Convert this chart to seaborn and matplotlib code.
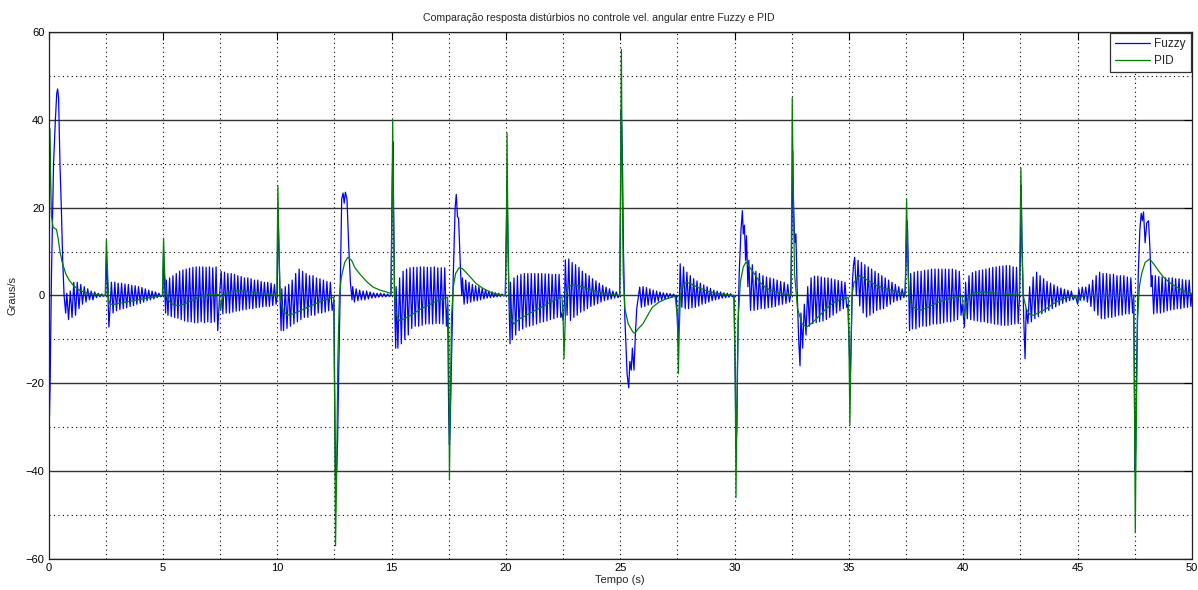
import numpy as np
import pandas as pd
import matplotlib
matplotlib.use("Agg")
import matplotlib.pyplot as plt
import seaborn as sns
from matplotlib.ticker import MultipleLocator

# ---------------- data ----------------
title = "Comparação resposta distúrbios no controle vel. angular entre Fuzzy e PID"
x_label = "Tempo (s)"
y_label = "Graus/s"
series_names = ["Fuzzy", "PID"]

# PID response (time s, value deg/s)
pid_t = [0, 0.02, 0.05, 0.08, 0.13, 0.2, 0.35, 0.42, 0.5, 0.6, 0.75, 0.9, 1.1, 1.35, 1.7, 2.1, 2.48,
         2.53, 2.58, 2.63, 2.7, 2.9, 3.3, 3.8, 4.3, 4.8, 4.98,
         5.03, 5.08, 5.15, 5.3, 5.5, 5.7, 6.0, 6.3, 6.6, 7.0, 7.47,
         7.53, 7.58, 7.7, 8.0, 8.3, 8.7, 9.2, 9.7, 9.98,
         10.03, 10.07, 10.13, 10.25, 10.45, 10.7, 11.0, 11.4, 11.8, 12.2, 12.47,
         12.52, 12.55, 12.6, 12.65, 12.72, 12.8, 12.95, 13.09, 13.25, 13.4, 13.61, 13.9, 14.19, 14.5, 14.78, 14.98,
         15.02, 15.05, 15.08, 15.13, 15.2, 15.35, 15.6, 15.94, 16.3, 16.7, 17.1, 17.45,
         17.5, 17.53, 17.57, 17.62, 17.7, 17.8, 17.95, 18.1, 18.3, 18.7, 19.0, 19.3, 19.6, 19.88, 19.98,
         20.02, 20.05, 20.08, 20.13, 20.2, 20.35, 20.6, 21.0, 21.5, 22.0, 22.45,
         22.5, 22.54, 22.58, 22.63, 22.72, 22.9, 23.1, 23.5, 23.9, 24.3, 24.7, 24.98,
         25.02, 25.05, 25.08, 25.13, 25.2, 25.35, 25.55, 25.63, 25.8, 26.0, 26.2, 26.4, 26.7, 27.0, 27.4,
         27.5, 27.54, 27.58, 27.63, 27.75, 27.9, 28.1, 28.4, 28.8, 29.2, 29.6, 29.98,
         30.03, 30.06, 30.1, 30.16, 30.25, 30.38, 30.5, 30.65, 30.81, 30.96, 31.1, 31.4, 31.8, 32.2, 32.47,
         32.52, 32.56, 32.62, 32.75, 32.95, 33.15, 33.4, 33.73, 34.0, 34.31, 34.6, 34.97,
         35.0, 35.04, 35.08, 35.13, 35.22, 35.48, 35.8, 36.2, 36.55, 36.93, 37.47,
         37.48, 37.52, 37.56, 37.62, 37.75, 38.1, 38.4, 38.8, 39.2, 39.6, 39.95,
         40.05, 40.12, 40.25, 40.5, 40.9, 41.3, 41.8, 42.45,
         42.48, 42.52, 42.56, 42.62, 42.75, 42.9, 43.06, 43.35, 43.64, 43.9, 44.2, 44.5, 44.8,
         44.98, 45.02, 45.1, 45.3, 47.45,
         47.48, 47.52, 47.56, 47.62, 47.7, 47.8, 47.95, 48.15, 48.35, 48.55, 48.75, 49.0, 49.33, 49.65, 50.0]
pid_v = [0, -20, 38, 30, 18, 15.5, 15, 13, 10, 7.5, 5, 3.5, 2.2, 1.2, 0.5, 0.2, 0,
         12.7, 6, -1, -2, -2, -1.6, -1.1, -0.6, -0.2, 0,
         13, 5, 0, -1.5, -2.2, -2.3, -1.8, -1, -0.3, 0.2, 0.2,
         -3.4, -1, 0.3, 0.9, 1.1, 0.9, 0.5, 0.2, 0,
         25, 12, 0, -3.5, -4.5, -4.2, -3.5, -2.5, -1.6, -0.8, -0.4,
         -30, -57, -40, -15, 0, 4, 7.5, 8.7, 8, 6.3, 4.9, 3.2, 1.9, 1.2, 0.8, 0.4,
         20, 40, 20, 0, -4.5, -5.7, -5.2, -4.2, -3.0, -2.0, -1.0, -0.4,
         -10, -42, -25, -5, 2, 5, 6.3, 6.1, 5, 2.7, 1.6, 0.8, 0.3, 0, 0,
         15, 37, 18, 0, -5, -6.5, -5.3, -4.2, -2.8, -1.4, -0.3,
         -5, -14.4, -8, 0, 2, 2.4, 2.3, 1.7, 1.0, 0.5, 0.2, 0,
         30, 56, 30, 5, -3, -6.5, -8.3, -8.6, -7.5, -6.4, -4.5, -2.7, -1.5, -0.8, -0.2,
         -5, -17.8, -8, 0, 2.5, 3, 2.6, 1.8, 1, 0.5, 0.2, 0,
         -20, -46, -25, -5, 3, 6.5, 7.6, 6.5, 5.3, 4.2, 3, 1.6, 0.8, 0.3, 0.1,
         45, 25, 5, -3, -6.5, -7.2, -6.2, -4.5, -3, -1.7, -1, -0.5,
         -10, -29.5, -15, 0, 3, 4.5, 3.5, 2.3, 1.6, 1.1, 0.3,
         10, 22, 10, 0, -2.5, -3.4, -2.8, -1.8, -1, -0.4, -0.2,
         -4.9, -2, 0, 0.6, 0.8, 0.6, 0.3, 0.1,
         12, 29, 12, 0, -3, -4.3, -4.5, -3.8, -3, -2, -1.1, -0.5, -0.2,
         -0.1, -1.5, -0.5, 0, 0,
         -20, -54, -30, -5, 2, 5, 7.5, 8.3, 7, 5.5, 4.2, 3, 1.9, 1, 0.4]

# Fuzzy response: transient vertices around each disturbance
fuzzy_key_t = [0, 0.04, 0.07, 0.13, 0.22, 0.3, 0.36, 0.4, 0.44, 0.5, 0.56, 0.62, 0.68, 0.75, 2.45,
               2.5, 2.53, 2.58, 2.64, 2.7,
               5.0, 5.03, 5.08, 5.12,
               7.48,
               10.0, 10.03, 10.07, 10.12, 10.17,
               12.48, 12.52, 12.55, 12.6, 12.64, 12.68, 12.75, 12.82, 12.88, 12.93, 12.98, 13.05, 13.12, 13.2, 13.27,
               14.97, 15.03, 15.06, 15.09, 15.13, 15.18,
               17.45, 17.5, 17.53, 17.56, 17.62, 17.7, 17.78, 17.83, 17.88, 17.93, 17.97, 18.02, 18.07,
               19.97, 20.03, 20.05, 20.08, 20.13, 20.18,
               22.45, 22.5, 22.53, 22.57,
               24.97, 25.02, 25.04, 25.07, 25.1, 25.14, 25.2, 25.3, 25.37, 25.42, 25.48, 25.53, 25.6, 25.66, 25.72, 25.8,
               27.45, 27.5, 27.53, 27.57, 27.6,
               29.97, 30.03, 30.06, 30.1, 30.14, 30.2, 30.28, 30.34, 30.38, 30.43, 30.48, 30.52, 30.58,
               32.45, 32.52, 32.54, 32.58, 32.63, 32.68, 32.73, 32.8, 32.86,
               34.95, 35.03, 35.06, 35.1, 35.15, 35.2,
               37.45, 37.5, 37.53, 37.56, 37.6, 37.65,
               39.95, 40.05,
               42.45, 42.5, 42.53, 42.56, 42.59, 42.64, 42.7,
               44.9, 45.0,
               47.45, 47.48, 47.51, 47.54, 47.58, 47.65, 47.72, 47.78, 47.83, 47.88, 47.95, 48.02, 48.1, 48.16, 48.22,
               50.0]
fuzzy_key_v = [0, -27.5, -20, 5, 30, 40, 46, 47, 45, 30, 20, 8, 0, -4, 0,
               0, 9, 3, -7.2, -2,
               0, 10, 2, -4,
               0,
               0, 20, 12, 0, -8,
               -1, -27, -42, -40, -33, -20, 0, 22, 23.3, 21, 23.5, 22, 12, 3, -1,
               0, 26, 35, 20, 0, -12,
               -2, -28, -34, -30, -15, 5, 20, 23, 18, 17.5, 12, 5, 0,
               0, 18, 26, 15, 0, -11,
               -4, -5.7, -4, 0,
               0, 25, 42, 38, 29, 10, -5, -18, -21, -15, -17, -12, -17, -9, -3, 0,
               0, -6, -11, -4, 2,
               0, -20, -35, -30, -10, 5, 15, 19.3, 14, 16, 8, 13.6, 2,
               0, 20, 33, 20, 12, 14, 2, -10, -16,
               -2, -15, -18, -10, 3, 7,
               1, 8, 17, 15.5, 5, -8,
               -2, -7.2,
               -1, 10, 25, 14, 6.4, -5, -14.4,
               0, -2,
               0, -20, -40, -34, -15, 5, 15, 18.7, 17, 19, 12, 16.5, 17, 10.6, 2,
               0.5]

# Fuzzy oscillation windows: start/end time, then peak and trough of each cycle
osc_start = [0.8, 2.75, 5.15, 7.55, 10.2, 13.3, 15.2, 18.1, 20.2, 22.6,
             25.85, 27.62, 30.62, 32.9, 35.25, 37.7, 40.1, 42.75, 45.05, 48.25]
osc_end = [2.4, 4.9, 7.4, 9.95, 12.4, 14.9, 17.4, 19.9, 22.4, 24.9,
           27.4, 29.9, 32.4, 34.9, 37.4, 39.9, 42.4, 44.8, 47.4, 49.95]
osc_hi = [
    [0.5, 1, 3, 3, 2.5, 2, 1.5, 1, 0.8, 0.5, 0.3],
    [3, 3, 2.8, 2.8, 2.6, 2.5, 2.3, 2.2, 2, 1.8, 1.5, 1.2, 1, 0.8, 0.5],
    [3.5, 4, 4.5, 5, 5.5, 5.8, 6, 6.2, 6.4, 6.5, 6.5, 6.5, 6.4, 6.5, 6.3, 6.5],
    [5.5, 5.3, 5, 5, 4.8, 4.5, 4.3, 4, 4, 3.8, 3.5, 3.5, 3.2, 3, 3, 2.8, 2.5],
    [1.5, 2, 2.5, 3.5, 5, 6, 5.5, 5, 4.5, 4.5, 4, 3.8, 3.5, 3.2, 3],
    [2, 1.5, 1.2, 1, 1, 0.8, 0.6, 0.5, 0.5, 0.4, 0.3],
    [2, 4, 5.5, 6, 6.3, 6.4, 6.4, 6.5, 6.5, 6.4, 6.4, 6.5, 6.3, 6.3, 6.3],
    [4, 3.5, 3, 2.5, 2.2, 2, 1.6, 1.3, 1, 0.8, 0.6, 0.5, 0.3],
    [3, 4, 4.5, 4.8, 5, 5, 5, 5, 5, 5, 4.9, 4.9, 4.8, 4.8, 4.8],
    [8.1, 8.3, 7.5, 7, 6.4, 5.5, 5, 4.5, 3.8, 3.3, 2.8, 2.3, 1.9, 1.5, 1, 0.8],
    [1.9, 2, 1.8, 1.5, 1.2, 1, 0.8, 0.6, 0.5, 0.4, 0.3],
    [7.2, 6.5, 5.3, 4.5, 3.8, 3.3, 2.8, 2.4, 2, 1.6, 1.2, 1, 0.8, 0.6, 0.5, 0.4],
    [8, 7, 5.5, 5, 4.5, 4.2, 4, 3.8, 3.5, 3.2, 3, 2.5],
    [-4, -2, 2, 4, 4.4, 4.4, 4.2, 4, 4, 3.8, 3.6, 3.4, 3.2, 3],
    [8.7, 8, 7.5, 7, 6.5, 6, 5.5, 5, 4.5, 4, 3.5, 3, 2.5, 2, 1.5],
    [5, 5.3, 5.5, 5.5, 5.7, 5.8, 6, 6, 6, 6, 6, 6, 6, 5.8, 5.5],
    [3, 4.5, 5.2, 5.5, 5.7, 5.8, 6, 6.2, 6.4, 6.5, 6.6, 6.7, 6.8, 6.8, 6.5, 6.4],
    [-3, 2, 4.2, 5.3, 4.5, 3.8, 3.2, 2.8, 2.4, 2, 1.7, 1.4, 1.2, 1],
    [1.5, 1.9, 1.9, 2.5, 3.5, 4.5, 5.3, 5, 5, 4.8, 4.8, 4.5, 4.5, 4.5, 4.2, 4],
    [4.5, 4.5, 4.3, 4.2, 4, 4, 4, 3.8, 3.8, 3.6, 3.5, 3.5],
]
osc_lo = [
    [-5.5, -5, -4.5, -3, -2, -1.5, -1, -1, -0.5, -0.3, -0.2],
    [-4, -3.5, -3.2, -3, -2.8, -2.5, -2.3, -2, -1.8, -1.5, -1.2, -1, -0.8, -0.5, -0.3],
    [-4.5, -4.8, -5, -5.2, -5.5, -5.8, -6, -6, -6.2, -6.2, -6, -6.2, -6, -6.2, -6, -8],
    [-4.2, -4, -4, -3.8, -3.6, -3.5, -3.3, -3.2, -3, -3, -2.8, -2.7, -2.6, -2.5, -2.5, -2.3, -2],
    [-8, -7.5, -7, -6.5, -6, -5.5, -5, -5, -4.5, -4.5, -4, -4, -3.8, -3.5, -3.4],
    [-1.5, -1.2, -1, -1, -0.8, -0.6, -0.5, -0.4, -0.3, -0.3, -0.2],
    [-12, -11, -10, -9, -7.5, -7, -7, -6.8, -6.5, -6.5, -6.5, -6.4, -6.4, -6.5, -7],
    [-2, -1.8, -1.5, -1.3, -1.2, -1, -0.8, -0.6, -0.5, -0.4, -0.3, -0.2, -0.1],
    [-10, -9, -8, -7.6, -7.2, -7, -6.8, -6.5, -6.2, -6, -5.8, -5.5, -5.3, -5, -5],
    [-4.5, -5.7, -5, -4.5, -3.8, -3.5, -3, -2.5, -2.2, -1.9, -1.5, -1.2, -1, -0.8, -0.6, -0.5],
    [-2.7, -2.5, -2.2, -2, -1.6, -1.3, -1, -0.8, -0.5, -0.4, -0.3],
    [-2.7, -3, -3, -2.8, -2.7, -2.4, -2, -1.8, -1.5, -1.2, -1, -0.8, -0.6, -0.5, -0.4, -0.3],
    [-3.4, -3.4, -3.2, -3, -3, -2.8, -2.7, -2.5, -2.2, -2, -1.8, -1.5],
    [-12, -9, -7, -6.4, -6.2, -6, -5.8, -5.5, -5, -4.5, -4, -3.5, -3, -2.7],
    [0, -2.4, -4, -4.9, -4.5, -4, -3.4, -3.2, -3, -2.5, -2, -1.5, -1.2, -1, -0.5],
    [-7.6, -7.6, -7.2, -7, -7, -6.8, -6.5, -6.5, -6.4, -6.2, -6, -6, -5.8, -5.5, -4.5],
    [-5.3, -5.5, -5.7, -5.8, -6, -6, -6.2, -6.3, -6.5, -6.6, -6.8, -6.8, -6.8, -6.6, -6.5, -6.4],
    [-6.4, -6, -5.3, -4.8, -4.2, -3.8, -3.4, -3, -2.6, -2.2, -1.8, -1.5, -1.2, -1],
    [-1.1, -1.1, -1.5, -2.5, -3.5, -4.5, -5.3, -5.3, -5, -5, -4.8, -4.5, -4.5, -4.2, -4.2, -4],
    [-4.2, -4, -4, -3.8, -3.5, -3.3, -3.2, -3, -3, -2.8, -2.7, -2.5],
]

# ---------------- assemble the Fuzzy series ----------------
ft = list(fuzzy_key_t)
fv = list(fuzzy_key_v)
for s, e, hi, lo in zip(osc_start, osc_end, osc_hi, osc_lo):
    times = np.linspace(s, e, 2 * len(hi))
    vals = np.empty(2 * len(hi))
    vals[0::2] = hi
    vals[1::2] = lo
    ft.extend(times.tolist())
    fv.extend(vals.tolist())
order = np.argsort(ft, kind="stable")
ft = np.asarray(ft)[order]
fv = np.asarray(fv)[order]

df = pd.concat([
    pd.DataFrame({"t": ft, "v": fv, "serie": series_names[0]}),
    pd.DataFrame({"t": pid_t, "v": pid_v, "serie": series_names[1]}),
], ignore_index=True)

# ---------------- plot ----------------
sns.set_style("white")
plt.rcParams["font.family"] = ["Liberation Sans", "DejaVu Sans"]

fig = plt.figure(figsize=(11.98, 5.90), dpi=100)
ax = fig.add_axes([0.0405, 0.0525, 0.9545, 0.8935])

palette = {"Fuzzy": "#0000ff", "PID": "#008000"}
sns.lineplot(data=df, x="t", y="v", hue="serie", palette=palette,
             estimator=None, sort=False, linewidth=0.9, ax=ax)

ax.set_xlim(0, 50)
ax.set_ylim(-60, 60)
ax.xaxis.set_major_locator(MultipleLocator(5))
ax.xaxis.set_minor_locator(MultipleLocator(2.5))
ax.yaxis.set_major_locator(MultipleLocator(20))
ax.yaxis.set_minor_locator(MultipleLocator(10))

dotted = (0, (1, 3))
ax.grid(True, which="both", axis="x", color="black", linestyle=dotted, linewidth=0.8)
ax.grid(True, which="minor", axis="y", color="black", linestyle=dotted, linewidth=0.8)
ax.grid(True, which="major", axis="y", color="#333333", linestyle="-", linewidth=1.0)
ax.set_axisbelow(True)

ax.tick_params(axis="both", which="major", direction="in", length=6, width=0.8,
               top=True, right=True, labelsize=8, colors="black", pad=3)
ax.tick_params(axis="both", which="minor", length=0)
for sp in ax.spines.values():
    sp.set_color("#222222")
    sp.set_linewidth(0.9)

ax.set_xlabel(x_label, fontsize=8, labelpad=1)
ax.set_ylabel(y_label, fontsize=8, labelpad=6)
fig.text(0.5, 1 - 18 / 590, title, ha="center", va="center", fontsize=7.6)

handles, labels = ax.get_legend_handles_labels()
leg = ax.legend(handles, labels, loc="upper right", borderaxespad=0.1, fancybox=False,
                framealpha=1, edgecolor="#333333", fontsize=8.5, handlelength=3.0,
                handletextpad=0.3, labelspacing=0.4, borderpad=0.45)
leg.get_frame().set_linewidth(0.9)
for line in leg.get_lines():
    line.set_linewidth(0.9)

fig.savefig("out.png", dpi=100)
